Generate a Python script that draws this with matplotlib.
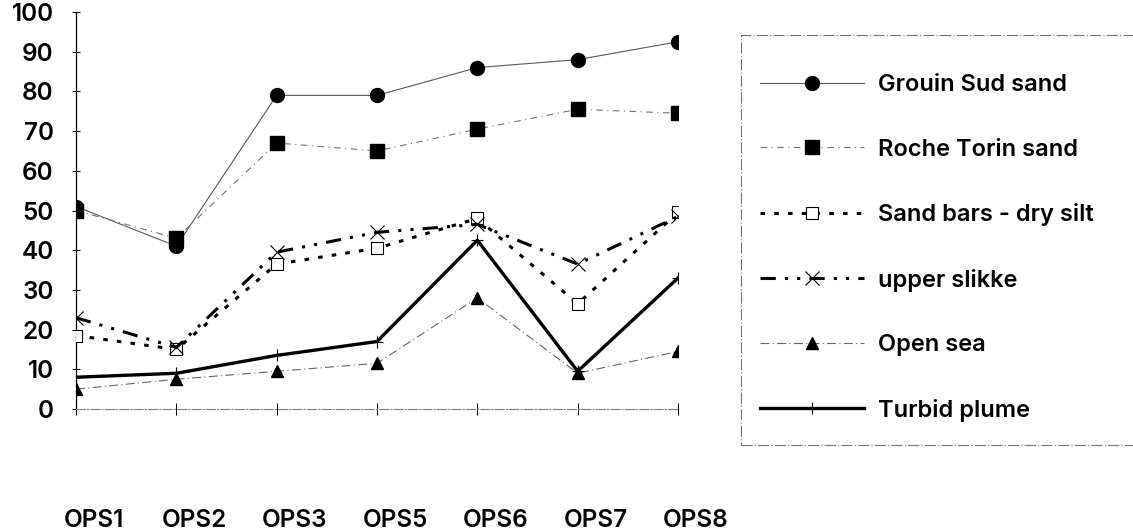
import matplotlib
matplotlib.use("Agg")
import matplotlib.pyplot as plt
import matplotlib.transforms as mtransforms
from matplotlib.patches import Rectangle

plt.rcParams['font.family'] = ['Inter', 'DejaVu Sans']
plt.rcParams['font.weight'] = 'semibold'

# data
sites = ['OPS1', 'OPS2', 'OPS3', 'OPS5', 'OPS6', 'OPS7', 'OPS8']
grouin_sud = [51, 41, 79, 79, 86, 88, 92.5]
roche_torin = [50, 43, 67, 65, 70.5, 75.5, 74.5]
sand_bars = [18.5, 15, 36.5, 40.5, 48, 26.5, 49.5]
upper_slikke = [23, 15.5, 39.5, 44.5, 46.5, 36.5, 48.5]
open_sea = [5, 7.5, 9.5, 11.5, 28, 9, 14.5]
turbid_plume = [8, 9, 13.5, 17, 42.5, 9.5, 33]
yticks = list(range(0, 101, 10))

W, H = 1133, 531
fig = plt.figure(figsize=(W / 100, H / 100), dpi=100)
ax = fig.add_axes([76 / W, 1 - 409 / H, 602 / W, 397 / H])

x = list(range(len(sites)))

ax.plot(x, grouin_sud, color='0.35', lw=0.8, ls='-', marker='o', ms=10,
        mfc='black', mec='black', label='Grouin Sud sand', zorder=3)
ax.plot(x, roche_torin, color='0.45', lw=0.8, ls=(0, (6, 4, 1, 4)), marker='s', ms=10,
        mfc='black', mec='black', label='Roche Torin sand', zorder=3)
ax.plot(x, sand_bars, color='black', lw=2.2, ls=(0, (1.5, 3)), marker='s', ms=9,
        mfc='white', mec='black', mew=0.8, label='Sand bars - dry silt', zorder=4)
ax.plot(x, upper_slikke, color='black', lw=2.2, ls=(0, (5, 3, 1, 3, 1, 3)), marker='x', ms=10,
        mec='black', mew=0.8, label='upper slikke', zorder=4)
ax.plot(x, open_sea, color='0.4', lw=0.8, ls=(0, (8, 3, 1, 3)), marker='^', ms=9,
        mfc='black', mec='black', label='Open sea', zorder=3)
ax.plot(x, turbid_plume, color='black', lw=2.4, ls='-', marker='+', ms=9,
        mew=0.8, label='Turbid plume', zorder=5)

ax.set_xlim(0, 6)
ax.set_ylim(0, 100)
ax.set_yticks(yticks)
ax.set_yticklabels([str(v) for v in yticks], fontsize=17.5)
ax.set_xticks(x)
ax.set_xticklabels(sites, fontsize=17.5)
ax.tick_params(axis='y', direction='inout', length=6, width=0.7, pad=13)
ax.tick_params(axis='x', direction='inout', length=8, width=0.7, pad=68)
offset = mtransforms.ScaledTranslation(18 / 100, 0, fig.dpi_scale_trans)
for lab in ax.get_xticklabels():
    lab.set_transform(lab.get_transform() + offset)

for s in ['top', 'right']:
    ax.spines[s].set_visible(False)
ax.spines['left'].set_linewidth(0.9)
ax.spines['bottom'].set_color('0.5')
ax.spines['bottom'].set_linewidth(0.8)
ax.spines['bottom'].set_linestyle((0, (8, 2, 1, 2)))

# legend box
box = Rectangle((741 / W, 1 - 445 / H), 420 / W, 410 / H, transform=fig.transFigure,
                fill=False, edgecolor='0.45', lw=0.8, ls=(0, (10, 2, 1, 2)))
fig.patches.append(box)

fig.legend(loc='upper left', bbox_to_anchor=(760 / W, 1 - 74 / H), frameon=False,
           fontsize=17, handlelength=4.4, handletextpad=0.6, labelspacing=1.8,
           borderpad=0, borderaxespad=0)

fig.savefig('out.png', dpi=100)
